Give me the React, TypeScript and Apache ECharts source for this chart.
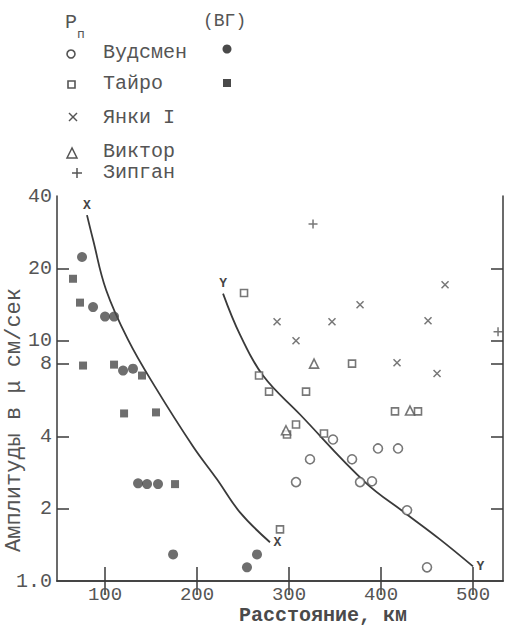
import React, { useEffect, useRef } from 'react';
import * as echarts from 'echarts';

// ---- axis ticks ----
const xTicks = [100, 200, 300, 400, 500];
const yTicks = [1, 2, 4, 8, 10, 20, 40];
const yInnerTicks = [2, 4, 8, 10, 20];

// ---- data: [distance km, amplitude] ----
const woodsmanOpen: [number, number][] = [
  [307.6, 2.58], [322.8, 3.21], [347.8, 3.88], [368.5, 3.21], [377.2, 2.58],
  [390.2, 2.6], [396.7, 3.56], [418.5, 3.56], [428.3, 1.97], [450.0, 1.14],
];
const woodsmanFilled: [number, number][] = [
  [75.0, 22.3], [87.0, 13.8], [100.0, 12.6], [109.8, 12.6], [119.6, 7.51],
  [130.4, 7.65], [135.9, 2.55], [145.7, 2.53], [157.6, 2.53], [174.0, 1.29],
  [265.2, 1.29], [254.3, 1.14],
];
const tyrOpen: [number, number][] = [
  [297.8, 4.07], [307.6, 4.48], [338.0, 4.11], [415.2, 5.08], [440.2, 5.08],
  [290.2, 1.64], [251.1, 15.8], [368.5, 8.03], [267.4, 7.16], [278.3, 6.14],
  [318.5, 6.14],
];
const tyrFilled: [number, number][] = [
  [65.2, 18.1], [72.8, 14.4], [76.1, 7.88], [109.8, 7.95], [140.2, 7.16],
  [120.7, 4.98], [155.4, 5.03], [176.1, 2.53],
];
const yankee: [number, number][] = [
  [287.0, 12.0], [346.7, 12.0], [377.2, 14.1], [469.6, 17.1], [451.1, 12.1],
  [307.6, 10.0], [417.4, 8.1], [460.9, 7.3],
];
const victor: [number, number][] = [
  [296.7, 4.24], [431.5, 5.12], [327.2, 8.03],
];
const zipgan: [number, number][] = [
  [326.1, 30.6], [527.2, 10.9],
];
const curveX: [number, number][] = [
  [80.4, 33.3], [87.0, 26.3], [101.1, 16.3], [125.0, 10.1], [154.3, 6.44],
  [195.7, 3.63], [221.7, 2.65], [246.7, 1.93], [279.3, 1.45],
];
const curveY: [number, number][] = [
  [228.3, 15.7], [246.7, 10.6], [271.7, 7.16], [312.0, 4.93], [382.6, 2.58],
  [426.1, 1.92], [464.1, 1.49], [500.0, 1.15],
];

const X_MIN = 47.8;
const X_MAX = 532.6;
const Y_MAX = 40;

const FONT = '"Liberation Mono", "DejaVu Sans Mono", monospace';
const INK = '#555';
const DARK = '#4a4a4a';
const LINE = '#3a3a3a';

const lg = (pts: [number, number][]) => pts.map(([x, y]) => [x, Math.log10(y)]);

const crossPath = 'path://M0,0L10,10M10,0L0,10';
const plusPath = 'path://M5,0L5,10M0,5L10,5';

function curveData(pts: [number, number][], name: string, startPos: any, endPos: any) {
  const d = lg(pts);
  return d.map((p, i) => {
    if (i === 0 || i === d.length - 1) {
      return {
        value: p,
        label: {
          show: true,
          formatter: name,
          position: i === 0 ? startPos : endPos,
          distance: 3,
          fontFamily: FONT,
          fontSize: 13,
          fontWeight: 'bold',
          color: '#444',
        },
      };
    }
    return { value: p };
  });
}

export default function App() {
  const ref = useRef<HTMLDivElement>(null);
  useEffect(() => {
    document.body.style.margin = '0';
    if (!ref.current) return;
    const chart = echarts.init(ref.current, undefined, { renderer: 'svg' });
    const axisLine = { show: true, lineStyle: { color: LINE, width: 1.5 } };
    const tickStyle = { color: LINE, width: 1.5 };
    const yTickVals = yTicks.map((v) => Math.log10(v));
    const yInnerVals = yInnerTicks.map((v) => Math.log10(v));
    const openStyle = { color: '#fff', borderColor: INK, borderWidth: 1.6 };
    const strokeStyle = { color: INK, borderColor: INK, borderWidth: 1.5 };
    const sc = (name: string, data: [number, number][], symbol: string, size: number, itemStyle: any) => ({
      type: 'scatter',
      name,
      data: lg(data),
      symbol,
      symbolSize: size,
      itemStyle,
      z: 3,
    });
    chart.setOption({
      animation: false,
      backgroundColor: '#fff',
      grid: { left: 57, right: 3, top: 196, bottom: 45, containLabel: false, outerBoundsMode: 'none' },
      xAxis: [
        {
          type: 'value', min: X_MIN, max: X_MAX, position: 'bottom',
          axisLine, splitLine: { show: false },
          axisTick: { show: true, inside: true, length: 14, customValues: xTicks, lineStyle: tickStyle },
          axisLabel: { show: true, customValues: xTicks, margin: 4, fontFamily: FONT, fontSize: 19, color: INK },
        },
        {
          type: 'value', min: X_MIN, max: X_MAX, position: 'top',
          axisLine, splitLine: { show: false },
          axisTick: { show: true, inside: true, length: 14, customValues: xTicks, lineStyle: tickStyle },
          axisLabel: { show: false },
        },
      ],
      yAxis: [
        {
          type: 'value', min: 0, max: Math.log10(Y_MAX), position: 'left',
          axisLine, splitLine: { show: false },
          axisTick: { show: true, inside: true, length: 12, customValues: yInnerVals, lineStyle: tickStyle },
          axisLabel: {
            show: true, customValues: yTickVals, margin: 5, fontFamily: FONT, fontSize: 20, color: INK,
            formatter: (v: number) => {
              const r = Math.round(Math.pow(10, v));
              return r === 1 ? '1.0' : String(r);
            },
          },
        },
        {
          type: 'value', min: 0, max: Math.log10(Y_MAX), position: 'right',
          axisLine, splitLine: { show: false },
          axisTick: { show: true, inside: true, length: 12, customValues: yInnerVals, lineStyle: tickStyle },
          axisLabel: { show: false },
        },
      ],
      series: [
        {
          type: 'line', name: 'X', data: curveData(curveX, 'X', 'top', 'right'), smooth: 0.4,
          symbol: 'circle', symbolSize: 1, itemStyle: { color: 'rgba(0,0,0,0)' },
          lineStyle: { color: LINE, width: 1.8 }, z: 2,
        },
        {
          type: 'line', name: 'Y', data: curveData(curveY, 'Y', 'top', 'right'), smooth: 0.4,
          symbol: 'circle', symbolSize: 1, itemStyle: { color: 'rgba(0,0,0,0)' },
          lineStyle: { color: LINE, width: 1.8 }, z: 2,
        },
        sc('Вудсмен', woodsmanOpen, 'circle', 9, openStyle),
        sc('Вудсмен (ВГ)', woodsmanFilled, 'circle', 10, { color: DARK }),
        sc('Тайро', tyrOpen, 'rect', 7, openStyle),
        sc('Тайро (ВГ)', tyrFilled, 'rect', 8, { color: DARK }),
        sc('Янки I', yankee, crossPath, 7, strokeStyle),
        sc('Виктор', victor, 'triangle', 9, openStyle),
        sc('Зипган', zipgan, plusPath, 9, strokeStyle),
      ],
      graphic: [
        { type: 'text', x: 65, y: 22, style: { text: 'Р', font: `20px ${FONT}`, fill: INK, textVerticalAlign: 'middle' } },
        { type: 'text', x: 77, y: 34, style: { text: 'п', font: `13px ${FONT}`, fill: '#555555', textVerticalAlign: 'middle' } },
        { type: 'text', x: 203, y: 21, style: { text: '(ВГ)', font: `18px ${FONT}`, fill: INK, textVerticalAlign: 'middle' } },
        { type: 'text', x: 103, y: 52, style: { text: 'Вудсмен', font: `20px ${FONT}`, fill: INK, textVerticalAlign: 'middle' } },
        { type: 'text', x: 103, y: 83, style: { text: 'Тайро', font: `20px ${FONT}`, fill: INK, textVerticalAlign: 'middle' } },
        { type: 'text', x: 103, y: 117, style: { text: 'Янки I', font: `20px ${FONT}`, fill: INK, textVerticalAlign: 'middle' } },
        { type: 'text', x: 103, y: 151, style: { text: 'Виктор', font: `20px ${FONT}`, fill: INK, textVerticalAlign: 'middle' } },
        { type: 'text', x: 103, y: 172, style: { text: 'Зипган', font: `20px ${FONT}`, fill: INK, textVerticalAlign: 'middle' } },
        { type: 'circle', shape: { cx: 71, cy: 54, r: 4 }, style: { fill: '#fff', stroke: INK, lineWidth: 1.6 } },
        { type: 'circle', shape: { cx: 227, cy: 49, r: 4.5 }, style: { fill: DARK } },
        { type: 'rect', shape: { x: 68, y: 81, width: 7, height: 7 }, style: { fill: '#fff', stroke: INK, lineWidth: 1.6 } },
        { type: 'rect', shape: { x: 223, y: 79, width: 8, height: 8 }, style: { fill: DARK } },
        { type: 'line', shape: { x1: 69, y1: 113, x2: 77, y2: 121 }, style: { stroke: INK, lineWidth: 1.5 } },
        { type: 'line', shape: { x1: 77, y1: 113, x2: 69, y2: 121 }, style: { stroke: INK, lineWidth: 1.5 } },
        { type: 'polygon', shape: { points: [[72, 148], [67, 158], [77, 158]] }, style: { fill: '#fff', stroke: INK, lineWidth: 1.5 } },
        { type: 'line', shape: { x1: 77, y1: 168, x2: 77, y2: 178 }, style: { stroke: INK, lineWidth: 1.5 } },
        { type: 'line', shape: { x1: 72, y1: 173, x2: 82, y2: 173 }, style: { stroke: INK, lineWidth: 1.5 } },
        {
          type: 'text', x: 14, y: 420, rotation: Math.PI / 2,
          style: { text: 'Амплитуды в μ см/сек', font: `22px ${FONT}`, fill: INK, textAlign: 'center', textVerticalAlign: 'middle' },
        },
        {
          type: 'text', x: 323, y: 615,
          style: { text: 'Расстояние, км', font: `bold 20px ${FONT}`, fill: DARK, textAlign: 'center', textVerticalAlign: 'middle' },
        },
      ],
    });
    return () => chart.dispose();
  }, []);
  return <div ref={ref} style={{ width: 506, height: 626 }} />;
}
